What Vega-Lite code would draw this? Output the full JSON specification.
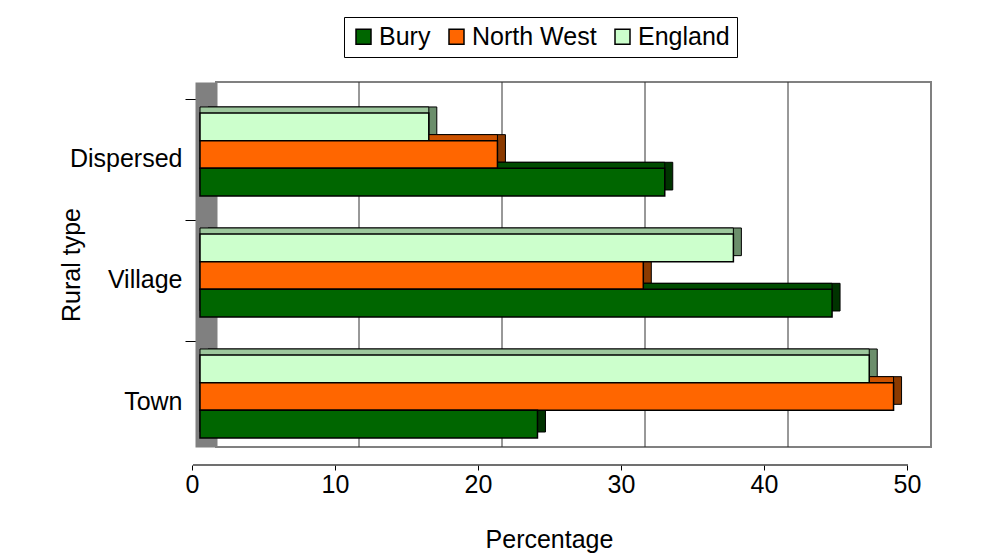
{
  "$schema": "https://vega.github.io/schema/vega-lite/v6.json",
  "autosize": {"type": "none"},
  "width": 715,
  "height": 365,
  "padding": {"left": 216, "top": 82, "right": 66, "bottom": 106},
  "background": "white",
  "config": {
    "font": "Liberation Sans",
    "view": {"stroke": "#808080", "strokeWidth": 2},
    "axis": {"labelColor": "black", "titleColor": "black", "titleFontWeight": "normal", "labelFontSize": 25, "titleFontSize": 25}
  },
  "data": {
    "values": [
      {"type": "Dispersed", "s": "Bury", "v": 32.5},
      {"type": "Dispersed", "s": "North West", "v": 20.8},
      {"type": "Dispersed", "s": "England", "v": 16.0},
      {"type": "Village", "s": "Bury", "v": 44.2},
      {"type": "Village", "s": "North West", "v": 31.0},
      {"type": "Village", "s": "England", "v": 37.3},
      {"type": "Town", "s": "Bury", "v": 23.6},
      {"type": "Town", "s": "North West", "v": 48.5},
      {"type": "Town", "s": "England", "v": 46.8}
    ]
  },
  "layer": [
    {
      "data": {"values": [{"g": 10}, {"g": 20}, {"g": 30}, {"g": 40}]},
      "mark": {"type": "rule", "color": "#333333", "strokeWidth": 1},
      "encoding": {"x": {"field": "g", "type": "quantitative", "scale": {"domain": [0, 50], "nice": false}, "title": "Percentage"}}
    },
    {
      "data": {"values": [{"a": 0, "b": 50}]},
      "mark": {"type": "rule", "color": "#404040", "strokeWidth": 1.5, "xOffset": -23, "x2Offset": -23, "yOffset": 18},
      "encoding": {
        "x": {"field": "a", "type": "quantitative", "scale": {"domain": [0, 50], "nice": false}, "title": "Percentage"},
        "x2": {"field": "b"},
        "y": {"value": "height"}
      }
    },
    {
      "transform": [{"filter": "datum.s === 'England'"}],
      "mark": {"type": "bar", "height": {"band": 0.3333}, "yOffset": -33.67, "xOffset": -8, "fill": "#6B8E6B", "stroke": "black", "strokeWidth": 1},
      "encoding": {
        "x": {
          "field": "v", "type": "quantitative", "scale": {"domain": [0, 50], "nice": false}, "title": "Percentage",
          "axis": {"orient": "bottom", "offset": 18, "grid": false, "domain": false, "values": [0, 10, 20, 30, 40, 50], "tickSize": 5, "tickColor": "black", "tickOffset": -24, "labelPadding": 2, "labelFlush": false, "labelOverlap": false, "titleX": 333, "titleY": 82, "titleBaseline": "alphabetic", "titleAlign": "center"}
        },
        "y": {
          "field": "type", "type": "nominal", "sort": ["Dispersed", "Village", "Town"], "title": "Rural type",
          "scale": {"domain": ["Dispersed", "Village", "Town"], "paddingInner": 0.314, "paddingOuter": 0.165, "align": 0.775},
          "axis": {"orient": "left", "offset": 10, "domainColor": "#808080", "domainWidth": 22, "tickSize": 21, "tickColor": "black", "bandPosition": -0.157, "labelPadding": 3, "labelOffset": 5, "titleX": -122, "grid": false}
        }
      }
    },
    {
      "transform": [{"filter": "datum.s === 'North West'"}],
      "mark": {"type": "bar", "height": {"band": 0.3333}, "yOffset": -6, "xOffset": -8, "fill": "#8B3A00", "stroke": "black", "strokeWidth": 1},
      "encoding": {
        "x": {"field": "v", "type": "quantitative", "scale": {"domain": [0, 50], "nice": false}, "title": "Percentage"},
        "y": {"field": "type", "type": "nominal", "sort": ["Dispersed", "Village", "Town"], "title": "Rural type"}
      }
    },
    {
      "transform": [{"filter": "datum.s === 'Bury'"}],
      "mark": {"type": "bar", "height": {"band": 0.3333}, "yOffset": 21.67, "xOffset": -8, "fill": "#003300", "stroke": "black", "strokeWidth": 1},
      "encoding": {
        "x": {"field": "v", "type": "quantitative", "scale": {"domain": [0, 50], "nice": false}, "title": "Percentage"},
        "y": {"field": "type", "type": "nominal", "sort": ["Dispersed", "Village", "Town"], "title": "Rural type"}
      }
    },
    {
      "transform": [{"filter": "datum.s === 'England'"}],
      "mark": {"type": "bar", "height": {"band": 0.3333}, "yOffset": -33.67, "xOffset": -16, "fill": "#9DC89D", "stroke": "black", "strokeWidth": 1},
      "encoding": {
        "x": {"field": "v", "type": "quantitative", "scale": {"domain": [0, 50], "nice": false}, "title": "Percentage"},
        "y": {"field": "type", "type": "nominal", "sort": ["Dispersed", "Village", "Town"], "title": "Rural type"}
      }
    },
    {
      "transform": [{"filter": "datum.s === 'North West'"}],
      "mark": {"type": "bar", "height": {"band": 0.3333}, "yOffset": -6, "xOffset": -16, "fill": "#CC5200", "stroke": "black", "strokeWidth": 1},
      "encoding": {
        "x": {"field": "v", "type": "quantitative", "scale": {"domain": [0, 50], "nice": false}, "title": "Percentage"},
        "y": {"field": "type", "type": "nominal", "sort": ["Dispersed", "Village", "Town"], "title": "Rural type"}
      }
    },
    {
      "transform": [{"filter": "datum.s === 'Bury'"}],
      "mark": {"type": "bar", "height": {"band": 0.3333}, "yOffset": 21.67, "xOffset": -16, "fill": "#004C00", "stroke": "black", "strokeWidth": 1},
      "encoding": {
        "x": {"field": "v", "type": "quantitative", "scale": {"domain": [0, 50], "nice": false}, "title": "Percentage"},
        "y": {"field": "type", "type": "nominal", "sort": ["Dispersed", "Village", "Town"], "title": "Rural type"}
      }
    },
    {
      "transform": [{"filter": "datum.s === 'England'"}],
      "mark": {"type": "bar", "height": {"band": 0.3333}, "yOffset": -27.67, "xOffset": -16, "stroke": "black", "strokeWidth": 1.5, "opacity": 1},
      "encoding": {
        "x": {"field": "v", "type": "quantitative", "scale": {"domain": [0, 50], "nice": false}, "title": "Percentage"},
        "y": {"field": "type", "type": "nominal", "sort": ["Dispersed", "Village", "Town"], "title": "Rural type"},
        "color": {
          "field": "s", "type": "nominal",
          "scale": {"domain": ["Bury", "North West", "England"], "range": ["#006600", "#FF6600", "#CCFFCC"]},
          "legend": {"orient": "none", "legendX": 128, "legendY": -65, "direction": "horizontal", "title": null, "padding": 7, "strokeColor": "black", "fillColor": "white", "labelFontSize": 25, "labelColor": "black", "labelOffset": 3, "columnPadding": 13, "symbolType": "square", "symbolSize": 225, "symbolStrokeColor": "black", "symbolStrokeWidth": 1.5, "symbolOpacity": 1}
        }
      }
    },
    {
      "transform": [{"filter": "datum.s === 'North West'"}],
      "mark": {"type": "bar", "height": {"band": 0.3333}, "yOffset": 0, "xOffset": -16, "stroke": "black", "strokeWidth": 1.5, "opacity": 1},
      "encoding": {
        "x": {"field": "v", "type": "quantitative", "scale": {"domain": [0, 50], "nice": false}, "title": "Percentage"},
        "y": {"field": "type", "type": "nominal", "sort": ["Dispersed", "Village", "Town"], "title": "Rural type"},
        "color": {"field": "s", "type": "nominal"}
      }
    },
    {
      "transform": [{"filter": "datum.s === 'Bury'"}],
      "mark": {"type": "bar", "height": {"band": 0.3333}, "yOffset": 27.67, "xOffset": -16, "stroke": "black", "strokeWidth": 1.5, "opacity": 1},
      "encoding": {
        "x": {"field": "v", "type": "quantitative", "scale": {"domain": [0, 50], "nice": false}, "title": "Percentage"},
        "y": {"field": "type", "type": "nominal", "sort": ["Dispersed", "Village", "Town"], "title": "Rural type"},
        "color": {"field": "s", "type": "nominal"}
      }
    }
  ]
}
